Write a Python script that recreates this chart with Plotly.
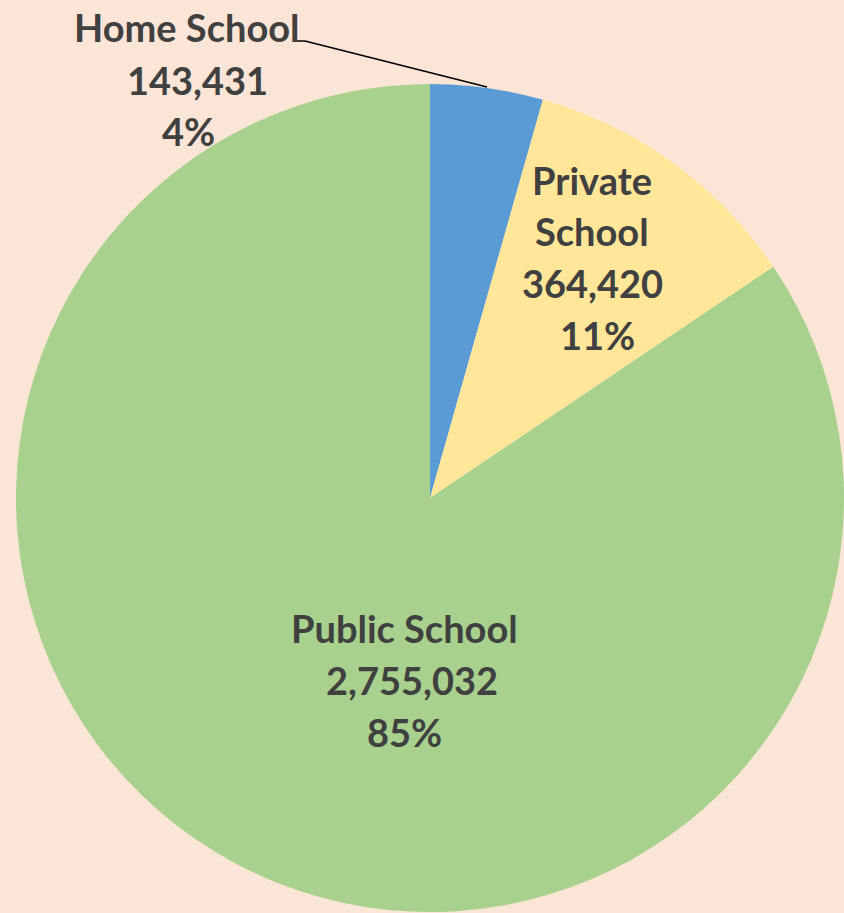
import plotly.graph_objects as go

categories = ["Home School", "Private School", "Public School"]
values = [143431, 364420, 2755032]
value_labels = ["143,431", "364,420", "2,755,032"]
pct_labels = ["4%", "11%", "85%"]
colors = ["#5B9BD5", "#FFE699", "#A9D18E"]

W, H = 844, 913
BG = "#FBE5D6"
TXT = "#404040"
FONT = "Lato"
FS = 38

fig = go.Figure(go.Pie(
    labels=categories,
    values=values,
    sort=False,
    direction="clockwise",
    rotation=0,
    marker=dict(colors=colors, line=dict(width=0)),
    textinfo="none",
    hoverinfo="skip",
    showlegend=False,
    domain=dict(x=[16 / W, 1.0], y=[1 - 912 / H, 1 - 84 / H]),
))

def px(x):
    return x / W

def py(y):
    return 1 - y / H

label_lines = [
    (["Home School", value_labels[0], pct_labels[0]], [187, 197, 188], [27, 80, 131]),
    (["Private", "School", value_labels[1], pct_labels[1]], [592, 592, 592, 597], [180, 231, 283, 335]),
    (["Public School", value_labels[2], pct_labels[2]], [404, 412, 404], [628, 680, 732]),
]

annotations = []
for lines, xs, ys in label_lines:
    for t, x, y in zip(lines, xs, ys):
        annotations.append(dict(
            text="<b>" + t + "</b>", x=px(x), y=py(y), xref="paper", yref="paper",
            xanchor="center", yanchor="middle", showarrow=False,
            font=dict(family=FONT, size=FS, color=TXT),
        ))

fig.update_layout(
    width=W, height=H,
    margin=dict(l=0, r=0, t=0, b=0),
    paper_bgcolor=BG, plot_bgcolor=BG,
    annotations=annotations,
    shapes=[
        dict(type="line", xref="paper", yref="paper",
             x0=px(297), y0=py(41), x1=px(305), y1=py(41),
             line=dict(color="black", width=1.5)),
        dict(type="line", xref="paper", yref="paper",
             x0=px(305), y0=py(41), x1=px(487), y1=py(87),
             line=dict(color="black", width=1.5)),
    ],
)

fig.write_html(
    "out.html",
    config={"displayModeBar": False},
    post_script="document.body.style.margin='0';document.body.style.background='" + BG + "';",
)
